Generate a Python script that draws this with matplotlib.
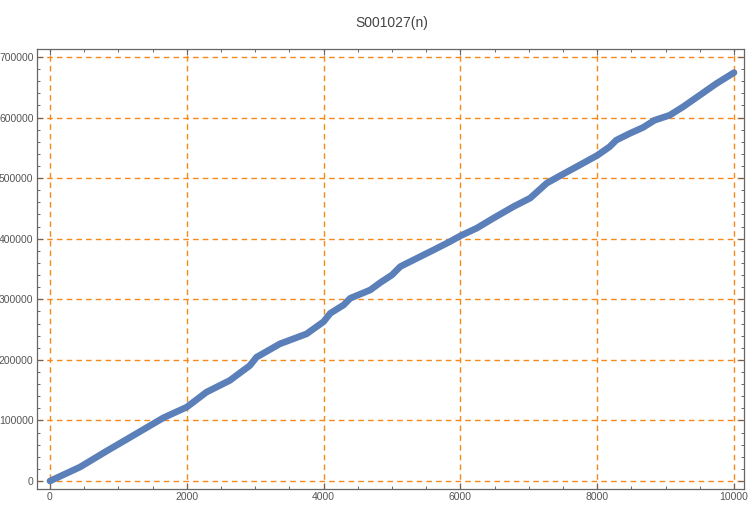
import matplotlib
matplotlib.use("Agg")
import matplotlib.pyplot as plt
from matplotlib.ticker import MultipleLocator

plt.rcParams["font.family"] = ["Liberation Sans", "DejaVu Sans"]

# values
n = [0, 439, 829, 1220, 1659, 2000, 2288, 2629, 2922, 3020, 3361, 3751,
     4000, 4098, 4293, 4390, 4683, 4829, 5000, 5122, 5366, 5610, 5849,
     6000, 6239, 6483, 6780, 7020, 7264, 7510, 7751, 8000, 8180, 8278,
     8473, 8668, 8839, 9059, 9254, 9498, 9741, 10000]
s = [0, 23000, 49500, 75300, 104400, 122000, 146700, 166000, 190600,
     204400, 226400, 242900, 263000, 276900, 290600, 301700, 315400,
     327500, 340200, 354000, 367800, 381500, 395300, 404700, 417400,
     433900, 453200, 467000, 491800, 507200, 522000, 537500, 551600,
     562600, 573600, 583500, 595600, 603800, 617600, 636800, 656000,
     674200]

title = "S001027(n)"

fig = plt.figure(figsize=(7.5, 5.07), dpi=100)
ax = fig.add_axes([0.0493, 0.0355, 0.9427, 0.8679])

ax.plot(n, s, color="#5b7fb8", lw=4.8, solid_capstyle="round",
        solid_joinstyle="round", zorder=3)

ax.set_xlim(-190, 10146)
ax.set_ylim(-13200, 713200)

ax.xaxis.set_major_locator(MultipleLocator(2000))
ax.xaxis.set_minor_locator(MultipleLocator(500))
ax.yaxis.set_major_locator(MultipleLocator(100000))
ax.yaxis.set_minor_locator(MultipleLocator(20000))

ax.grid(True, which="major", color="#f5891a", lw=1.0, ls=(0, (4, 3)))
ax.set_axisbelow(True)

ax.tick_params(which="both", direction="in", top=True, right=True,
               colors="#666666", labelcolor="#555555", labelsize=7.5, pad=2.5)
ax.tick_params(which="major", length=4.5, width=0.8)
ax.tick_params(which="minor", length=2.5, width=0.7)
for sp in ax.spines.values():
    sp.set_color("#666666")
    sp.set_linewidth(0.9)

fig.text(0.522, 0.955, title, ha="center", va="center", fontsize=10,
         color="#444444")

fig.savefig("out.png", dpi=100)
